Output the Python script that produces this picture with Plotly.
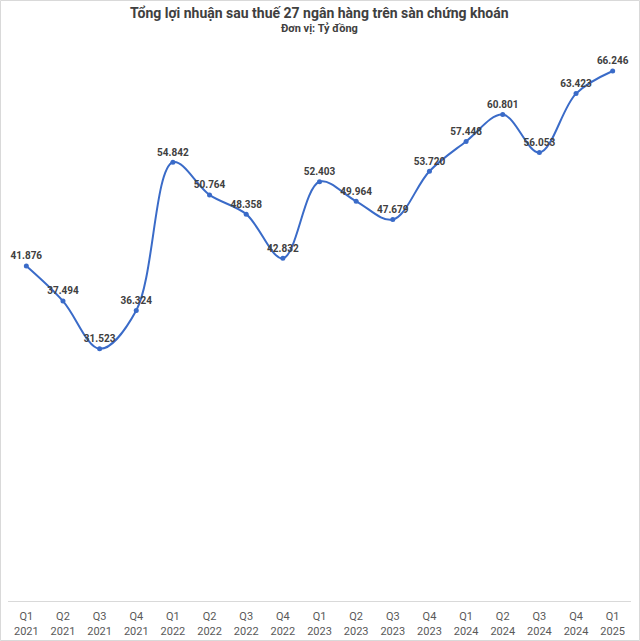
import plotly.graph_objects as go

quarters = ["Q1<br>2021", "Q2<br>2021", "Q3<br>2021", "Q4<br>2021",
            "Q1<br>2022", "Q2<br>2022", "Q3<br>2022", "Q4<br>2022",
            "Q1<br>2023", "Q2<br>2023", "Q3<br>2023", "Q4<br>2023",
            "Q1<br>2024", "Q2<br>2024", "Q3<br>2024", "Q4<br>2024",
            "Q1<br>2025"]
profit = [41.876, 37.494, 31.523, 36.324, 54.842, 50.764, 48.358, 42.832,
          52.403, 49.964, 47.679, 53.720, 57.448, 60.801, 56.053, 63.423, 66.246]
labels = ["41.876", "37.494", "31.523", "36.324", "54.842", "50.764", "48.358", "42.832",
          "52.403", "49.964", "47.679", "53.720", "57.448", "60.801", "56.053", "63.423", "66.246"]
title_text = "Tổng lợi nhuận sau thuế 27 ngân hàng trên sàn chứng khoán"
subtitle_text = "Đơn vị: Tỷ đồng"

W, H = 640, 641
ml, mr, mt, mb = 8, 9, 41, 40

fig = go.Figure(go.Scatter(
    x=quarters, y=profit, mode="lines+markers+text",
    line=dict(color="#3A6BC8", width=2, shape="spline", smoothing=1.0),
    marker=dict(size=5, color="#3A6BC8"),
    text=labels, textposition="top center",
    textfont=dict(family="Roboto", size=10, color="#404040", weight="bold"),
    cliponaxis=False, hoverinfo="skip",
))

pw = W - ml - mr
ph = H - mt - mb
fig.add_shape(type="rect", xref="paper", yref="paper",
              x0=-(ml - 0.5) / pw, x1=1 + (mr - 0.5) / pw,
              y0=-(mb - 0.5) / ph, y1=1 + (mt - 0.5) / ph,
              line=dict(color="#D9D9D9", width=1))

fig.add_annotation(text="<b>" + title_text + "</b>", xref="paper", yref="paper",
                   x=0.5, xanchor="center", y=1 + (mt - 3) / ph, yanchor="top",
                   showarrow=False,
                   font=dict(family="Roboto", size=14, color="#404040"))
fig.add_annotation(text="<b>" + subtitle_text + "</b>", xref="paper", yref="paper",
                   x=0.5, xanchor="center", y=1 + (mt - 20) / ph, yanchor="top",
                   showarrow=False,
                   font=dict(family="Roboto", size=11, color="#404040"))

fig.update_layout(
    width=W, height=H,
    margin=dict(l=ml, r=mr, t=mt, b=mb, autoexpand=False),
    paper_bgcolor="white", plot_bgcolor="white",
    showlegend=False,
    xaxis=dict(showgrid=False, showline=True, linecolor="#D9D9D9", linewidth=1,
               ticks="", tickfont=dict(family="Roboto", size=11, color="#595959"),
               ticklabelstandoff=5,
               range=[-0.5, 16.5], automargin=False, fixedrange=True),
    yaxis=dict(range=[0, 70], visible=False, fixedrange=True),
)

fig.write_html("out.html", config={"displayModeBar": False},
               post_script="document.body.style.margin='0';document.body.style.overflow='hidden';")
